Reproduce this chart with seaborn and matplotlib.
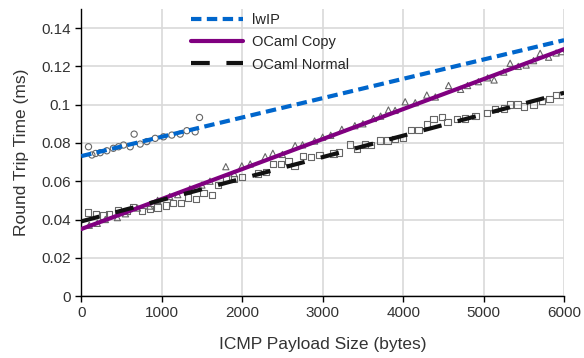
import numpy as np
import pandas as pd
import matplotlib
matplotlib.use("Agg")
import matplotlib.pyplot as plt
import seaborn as sns

# --- measured points (payload bytes, RTT ms) ---
lwip_x = [91, 133, 180, 236, 319, 400, 464, 526, 609, 658, 733, 816, 919, 1023, 1126, 1230, 1313, 1416, 1470]
lwip_y = [0.078, 0.0737, 0.0745, 0.0749, 0.0759, 0.0772, 0.078, 0.0789, 0.078, 0.0846, 0.0794, 0.0807,
          0.0824, 0.0832, 0.0841, 0.0846, 0.0864, 0.0858, 0.0933]

copy_x = [100, 200, 300, 450, 550, 700, 850, 950, 1100, 1200, 1350, 1500, 1600, 1797, 1900, 1996, 2100,
          2286, 2381, 2500, 2658, 2750, 2900, 3000, 3100, 3238, 3400, 3500, 3631, 3720, 3817, 3900, 4025,
          4150, 4294, 4400, 4564, 4714, 4800, 4935, 5050, 5130, 5250, 5329, 5430, 5528, 5620, 5702, 5807,
          5900, 5972]
copy_y = [0.037, 0.038, 0.040, 0.041, 0.043, 0.046, 0.047, 0.050, 0.052, 0.053, 0.056, 0.058, 0.060,
          0.0676, 0.064, 0.068, 0.069, 0.0728, 0.0746, 0.074, 0.0786, 0.079, 0.081, 0.083, 0.084, 0.0871,
          0.089, 0.090, 0.0928, 0.094, 0.0972, 0.097, 0.1015, 0.101, 0.105, 0.104, 0.110, 0.108, 0.110,
          0.112, 0.114, 0.1129, 0.117, 0.1216, 0.120, 0.1207, 0.123, 0.1268, 0.1248, 0.127, 0.1277]

normal_x = [87, 186, 277, 350, 460, 567, 648, 753, 857, 948, 1052, 1139, 1238, 1325, 1429, 1520, 1623,
            1700, 1797, 1900, 2000, 2194, 2300, 2381, 2484, 2575, 2650, 2754, 2857, 2961, 3134, 3200,
            3342, 3424, 3528, 3600, 3714, 3805, 3900, 3996, 4099, 4190, 4294, 4377, 4480, 4550, 4667,
            4770, 4900, 5039, 5143, 5250, 5329, 5420, 5500, 5619, 5722, 5817, 5900, 5978]
normal_y = [0.0437, 0.0428, 0.0421, 0.043, 0.0449, 0.0444, 0.0467, 0.0444, 0.0455, 0.0463, 0.0473,
            0.0487, 0.0487, 0.0515, 0.0509, 0.054, 0.0528, 0.058, 0.0611, 0.0611, 0.062, 0.064, 0.065,
            0.069, 0.069, 0.0707, 0.068, 0.0733, 0.0725, 0.0737, 0.0745, 0.075, 0.0792, 0.077, 0.0792,
            0.079, 0.0813, 0.0813, 0.082, 0.0827, 0.0867, 0.0867, 0.0899, 0.0926, 0.0937, 0.091, 0.0926,
            0.0928, 0.094, 0.0958, 0.0977, 0.098, 0.1001, 0.1001, 0.099, 0.1001, 0.1019, 0.1031, 0.105,
            0.1052]

# --- linear fits as drawn (intercept ms, slope ms/byte) ---
fit_range = [0, 6000]
lwip_fit = (0.0731, 1.01e-5)
copy_fit = (0.0350, 1.567e-5)
normal_fit = (0.0390, 1.12e-5)

sns.set_style("whitegrid")
plt.rcParams["font.family"] = ["Liberation Sans", "DejaVu Sans"]

fig, ax = plt.subplots(figsize=(5.84, 3.58), dpi=100)
fig.subplots_adjust(left=0.139, right=0.966, bottom=0.173, top=0.975)

mk = dict(facecolor="none", edgecolor="#666666", linewidth=0.8, s=20, legend=False, ax=ax, zorder=2)
sns.scatterplot(x=lwip_x, y=lwip_y, marker="o", **mk)
sns.scatterplot(x=copy_x, y=copy_y, marker="^", **mk)
sns.scatterplot(x=normal_x, y=normal_y, marker="s", **mk)

fx = np.array(fit_range)
fits = [("lwIP", lwip_fit, "#0066cc", (2.5, 1.3)),
        ("OCaml Copy", copy_fit, "#800080", None),
        ("OCaml Normal", normal_fit, "#111111", (4.5, 4))]
for name, (b, m), col, dash in fits:
    line, = ax.plot(fx, b + m * fx, color=col, lw=3, label=name, zorder=3)
    if dash:
        line.set_dashes(dash)

ax.set_xlim(0, 6000)
ax.set_ylim(0, 0.15)
ax.set_xticks(range(0, 6001, 1000))
ax.set_yticks([0, 0.02, 0.04, 0.06, 0.08, 0.1, 0.12, 0.14])
ax.set_yticklabels(["0", "0.02", "0.04", "0.06", "0.08", "0.1", "0.12", "0.14"])
ax.grid(True, color="#d9d9d9", lw=1.2)
for s in ["top", "right"]:
    ax.spines[s].set_visible(False)
for s in ["left", "bottom"]:
    ax.spines[s].set_color("black")
    ax.spines[s].set_linewidth(1)
ax.tick_params(axis="both", direction="out", length=4, width=1, color="black",
               labelsize=11, labelcolor="#333333", left=True, bottom=True)
ax.set_xlabel("ICMP Payload Size (bytes)", fontsize=12.5, color="#333333", labelpad=12)
ax.set_ylabel("Round Trip Time (ms)", fontsize=12.5, color="#333333", labelpad=9)

ax.legend(loc="upper left", bbox_to_anchor=(0.2, 1.03), frameon=False, fontsize=10.5,
          handlelength=3.6, labelspacing=0.55, handletextpad=0.6)

fig.savefig("out.png", dpi=100)
